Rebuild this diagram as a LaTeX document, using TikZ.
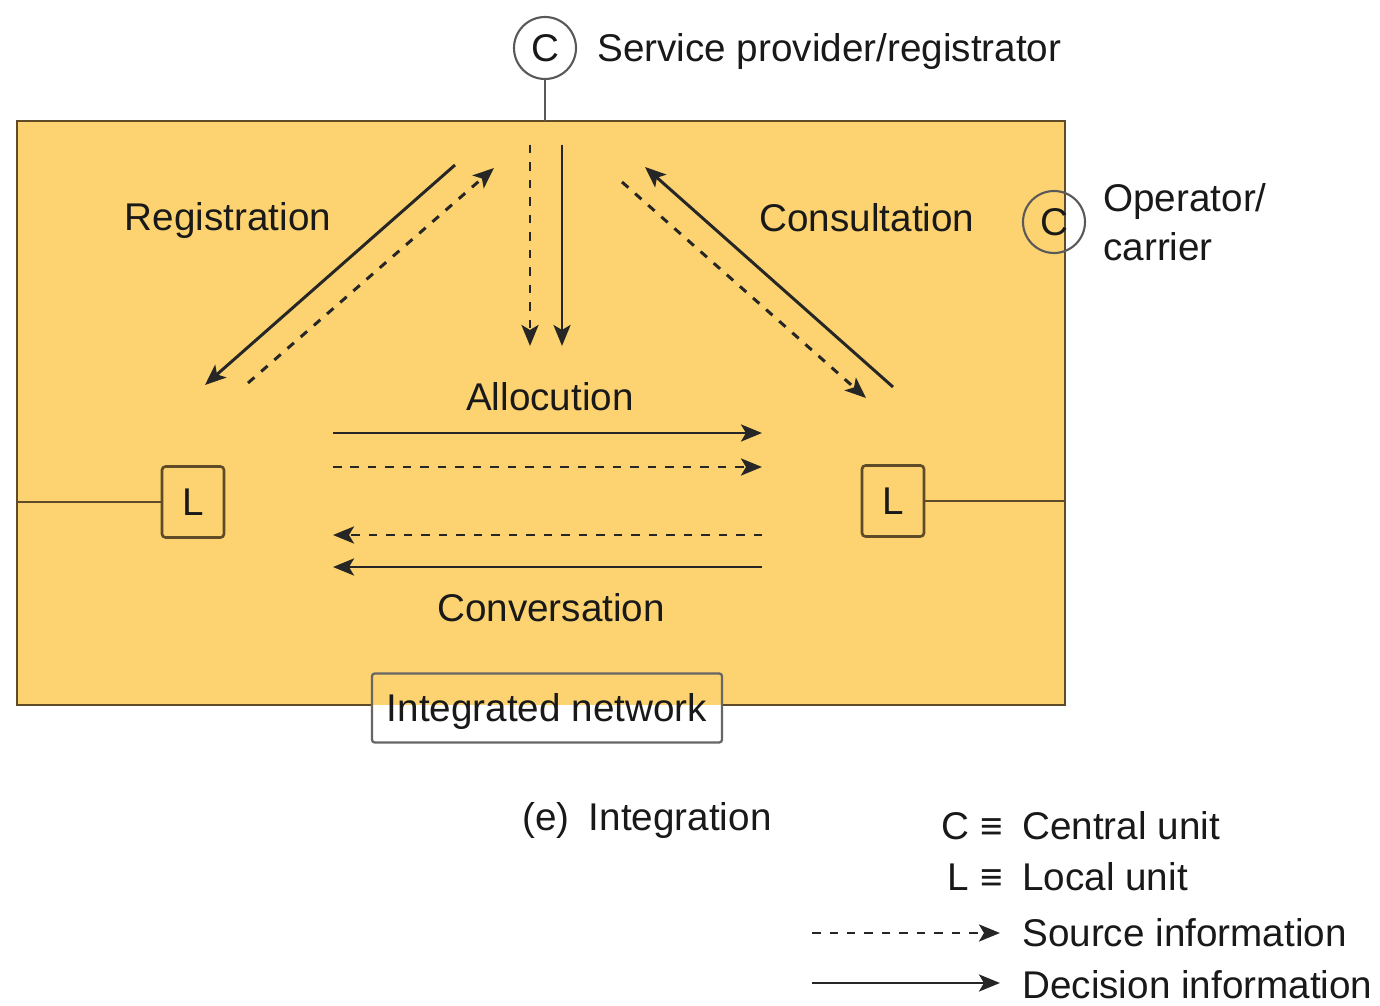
\documentclass[tikz,border=0pt]{standalone}
\usepackage{fontspec}
\setmainfont{Liberation Sans}
\usetikzlibrary{arrows.meta}
\definecolor{netfill}{RGB}{252,211,112}
\definecolor{edge}{RGB}{95,75,40}
\definecolor{ink}{RGB}{25,25,25}
\begin{document}
\begin{tikzpicture}[x=0.02cm,y=-0.02cm,
  font=\fontsize{22}{26}\selectfont,
  unit/.style={circle, draw=black!65, line width=1.2pt, minimum size=1.24cm, inner sep=0pt, text=ink},
  local/.style={draw=edge, line width=1.5pt, rounded corners=2pt, minimum width=1.24cm, minimum height=1.42cm, inner sep=0pt, text=ink},
  lbl/.style={text=ink, inner sep=0pt},
  dec/.style={draw=black!85, line width=1.7pt, -{Stealth[length=0.42cm,width=0.34cm,inset=0.1cm]}},
  src/.style={dec, dash pattern=on 0.17cm off 0.18cm},
  link/.style={draw=edge, line width=1.2pt}]
\useasboundingbox (0,0) rectangle (1380,1006);
% main network area
\node[fill=netfill, minimum width=20.96cm, minimum height=11.68cm, inner sep=0pt] (net) at (541,413) {};
\node[draw=black!60, line width=1.3pt, rounded corners=1.5pt, minimum width=7cm, minimum height=1.38cm, inner sep=0pt] (inet) at (547,708) {};
\node[lbl] (inett) at (547,712) {Integrated network};
\draw[link] (inet.west |- net.south) -- (net.south west) -- (net.north west) -- (net.north east) -- (net.south east) -- (inet.east |- net.south);
% central units
\node[unit] (cs) at (545,48) {C};
\node[lbl, anchor=west] (cst) at (597,52) {Service provider/registrator};
\draw[draw=black!65, line width=1.2pt] (cs.south) -- (cs.south |- net.north);
\node[unit] (co) at (1054,222) {C};
\node[lbl, anchor=west, align=left] (cot) at (1103,222) {Operator/\\[2pt]carrier};
% local units
\node[local] (ll) at (193,502) {L};
\node[local] (lr) at (893,501) {L};
\draw[link] (net.west |- ll.west) -- (ll.west);
\draw[link] (lr.east) -- (lr.east -| net.east);
% labels
\node[lbl] (reg) at (228,221) {Registration};
\node[lbl] (con) at (867,218) {Consultation};
\node[lbl] (all) at (550,397) {Allocution};
\node[lbl] (cnv) at (551,608) {Conversation};
% arrow end points
\coordinate (ra1) at (455,165); \coordinate (ra2) at (205,385);
\coordinate (rb1) at (248,383); \coordinate (rb2) at (494,168);
\coordinate (va1) at (530,145); \coordinate (va2) at (530,346);
\coordinate (vb1) at (562,145); \coordinate (vb2) at (562,346);
\coordinate (ca1) at (893,387); \coordinate (ca2) at (645,167);
\coordinate (cb1) at (622,182); \coordinate (cb2) at (866,398);
\coordinate (aa1) at (333,433); \coordinate (aa2) at (762,433);
\coordinate (ab1) at (333,467); \coordinate (ab2) at (762,467);
\coordinate (na1) at (762,535); \coordinate (na2) at (333,535);
\coordinate (nb1) at (762,567); \coordinate (nb2) at (333,567);
\draw[dec] (ra1) -- (ra2);
\draw[src] (rb1) -- (rb2);
\draw[src] (va1) -- (va2);
\draw[dec] (vb1) -- (vb2);
\draw[dec] (ca1) -- (ca2);
\draw[src] (cb1) -- (cb2);
\draw[dec] (aa1) -- (aa2);
\draw[src] (ab1) -- (ab2);
\draw[src] (na1) -- (na2);
\draw[dec] (nb1) -- (nb2);
% caption
\node[lbl, anchor=west] (cap) at (522,821) {(e)\enspace Integration};
% legend
\node[lbl, anchor=east] (lgc) at (1003,826) {C ≡};
\node[lbl, anchor=west] (lgct) at (1022,826) {Central unit};
\node[lbl, anchor=east] (lgl) at (1003,877) {L ≡};
\node[lbl, anchor=west] (lglt) at (1022,877) {Local unit};
\coordinate (ls1) at (812,933); \coordinate (ls2) at (1000,933);
\coordinate (ld1) at (812,983); \coordinate (ld2) at (1000,983);
\draw[src] (ls1) -- (ls2);
\draw[dec] (ld1) -- (ld2);
\node[lbl, anchor=west] (lgs) at (1022,933) {Source information};
\node[lbl, anchor=west] (lgd) at (1022,985) {Decision information};
\end{tikzpicture}
\end{document}
